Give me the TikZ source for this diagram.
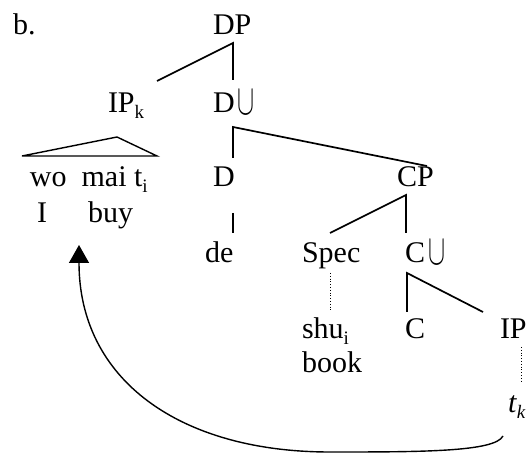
\documentclass[tikz,border=0pt]{standalone}
\usepackage{fontspec}
\usepackage{graphicx}
\setmainfont{Liberation Serif}
\usetikzlibrary{arrows.meta}
% small lowered index, as in a word-processor subscript
\newcommand\lowsub[1]{\raisebox{-6pt}{\fontsize{19}{19}\selectfont #1}}
% the tall cup used for the bar levels
\newcommand\barmark{\hspace{3pt}\raisebox{-1.5pt}{\resizebox{17pt}{24pt}{$\cup$}}}
\begin{document}
\begin{tikzpicture}[x=1pt,y=-1pt,
  lab/.style={anchor=base west,inner sep=0pt,outer sep=0pt,font=\fontsize{30}{36}\selectfont},
  branch/.style={line width=1.7pt},
  trace/.style={line width=0.8pt,dotted},
  move/.style={line width=1.4pt,-{Triangle[length=18pt,width=20pt]}}]
\useasboundingbox (0,0) rectangle (528,454);

% labels
\node[lab] (ex)   at (13,35)  {b.};
\node[lab] (DP)   at (213,35) {DP};
\node[lab] (IPk)  at (108,113) {IP\lowsub{k}};
\node[lab] (Dbar) at (213,113) {D\barmark};
\node[lab] (words) at (30,187) {wo\ \ mai t\lowsub{i}};
\node[lab] (gI)   at (37,223) {I};
\node[lab] (gbuy) at (88,223) {buy};
\node[lab] (D)    at (213,187) {D};
\node[lab] (CP)   at (397,187) {CP};
\node[lab] (de)   at (205,263) {de};
\node[lab] (Spec) at (302,263) {Spec};
\node[lab] (Cbar) at (405,263) {C\barmark};
\node[lab] (shu)  at (302,339) {shu\lowsub{i}};
\node[lab] (book) at (302,373) {book};
\node[lab] (C)    at (405,339) {C};
\node[lab] (IP)   at (500,339) {IP};
\node[lab] (tk)   at (508,413) {\textit{t}\lowsub{\textit{k}}};

% attachment points of the branches
\coordinate (DPf)   at (233,43);
\coordinate (IPkh)  at (157,81);
\coordinate (Dbarh) at (233,80);
\coordinate (Dbarf) at (233,127);
\coordinate (Dh)    at (233,158);
\coordinate (CPh)   at (427,166);
\coordinate (Df)    at (233,213);
\coordinate (deh)   at (233,233);
\coordinate (CPf)   at (406,195);
\coordinate (Spech) at (330,233);
\coordinate (Cbarh) at (406,233);
\coordinate (Specf) at (330,273);
\coordinate (shuh)  at (330,312);
\coordinate (Cbarf) at (407,273);
\coordinate (Ch)    at (407,312);
\coordinate (IPh)   at (483,312);
\coordinate (IPf)   at (521,347);
\coordinate (tkh)   at (521,383);
\coordinate (triL)  at (22,156);
\coordinate (triT)  at (117,137);
\coordinate (triR)  at (157,156);
\coordinate (tkf)   at (503,436);
\coordinate (gap)   at (79,245);

% tree branches
\draw[branch] (IPkh) -- (DPf) -- (Dbarh);
\draw[branch] (Dh) -- (Dbarf) -- (CPh);
\draw[branch] (Df) -- (deh);
\draw[branch] (Spech) -- (CPf) -- (Cbarh);
\draw[branch] (Ch) -- (Cbarf) -- (IPh);
\draw[branch,line width=1.4pt,line join=miter] (triL) -- (triT) -- (triR) -- cycle;
\draw[trace] (Specf) -- (shuh);
\draw[trace] (IPf) -- (tkh);

% movement of IP_k
\draw[move] (tkf) .. controls (495,452) and (420,452) .. (330,452)
                  .. controls (180,452) and (79,380) .. (gap);
\end{tikzpicture}
\end{document}
